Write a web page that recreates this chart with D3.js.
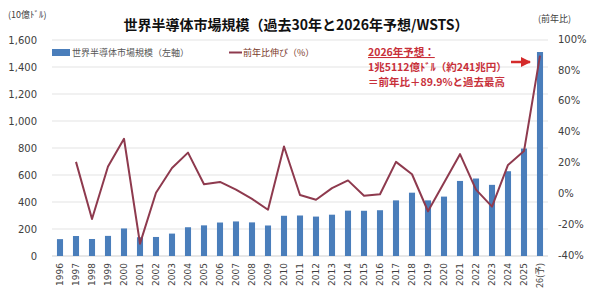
<!DOCTYPE html>
<html>
<head>
    <meta charset="utf-8">
    <script src="https://d3js.org/d3.v7.min.js"></script>
    <style>
        body { margin: 0; background: #fff; }
        text { font-family: "DejaVu Sans", sans-serif; }
        .jp { font-family: "Noto Sans CJK JP", sans-serif; }
    </style>
</head>
<body>
    <svg width="600" height="303"></svg>

    <script>
        // 年（カテゴリ）
        var years = ["1996", "1997", "1998", "1999", "2000", "2001", "2002", "2003", "2004", "2005",
                     "2006", "2007", "2008", "2009", "2010", "2011", "2012", "2013", "2014", "2015",
                     "2016", "2017", "2018", "2019", "2020", "2021", "2022", "2023", "2024", "2025", "26(予)"];
        // 世界半導体市場規模（10億ドル）
        var market = [125, 148, 126, 149, 204, 139, 141, 166, 213, 227,
                      248, 256, 249, 226, 298, 300, 292, 306, 336, 335,
                      339, 412, 469, 412, 440, 556, 574, 527, 628, 796, 1511];
        // 前年比伸び（%）、1996年はなし
        var growth = [null, 21, -16, 18, 36, -32, 1, 17, 27, 6.5,
                      8, 3, -3, -10, 31, -0.5, -3.5, 4, 9, -1,
                      0, 21, 13, -11, 7.5, 26, 3, -8, 19, 28, 89.9];
        var leftTicks = [0, 200, 400, 600, 800, 1000, 1200, 1400, 1600];
        var rightTicks = [-40, -20, 0, 20, 40, 60, 80, 100];

        var svg = d3.select("svg");
        var plotTop = 40, plotBottom = 256, plotLeft = 52, plotRight = 548;

        var x = d3.scaleBand()
            .domain(years)
            .range([plotLeft, plotRight])
            .paddingInner(0.62)
            .paddingOuter(0.31);

        var y = d3.scaleLinear().domain([0, 1600]).range([plotBottom, plotTop]);
        var y2 = d3.scaleLinear().domain([-40, 100]).range([plotBottom, plotTop]);

        // グリッド線
        svg.append("g").selectAll("line")
            .data(leftTicks)
            .enter().append("line")
            .attr("x1", plotLeft).attr("x2", plotRight)
            .attr("y1", function(d) { return y(d); })
            .attr("y2", function(d) { return y(d); })
            .attr("stroke", function(d) { return d === 0 ? "#cfcfcf" : "#e3e3e3"; })
            .attr("stroke-width", 1);

        // 左軸
        var yAxis = d3.axisLeft(y).tickValues(leftTicks).tickSize(0).tickPadding(0)
            .tickFormat(d3.format(","));
        svg.append("g")
            .attr("transform", "translate(37,0)")
            .call(yAxis)
            .call(function(g) { g.select(".domain").remove(); })
            .selectAll("text")
            .attr("font-size", "10px")
            .attr("fill", "#404040")
            .attr("font-family", "DejaVu Sans");

        // 右軸
        var y2Axis = d3.axisRight(y2).tickValues(rightTicks).tickSize(0).tickPadding(0)
            .tickFormat(function(d) { return d + "%"; });
        svg.append("g")
            .attr("transform", "translate(558,-1)")
            .call(y2Axis)
            .call(function(g) { g.select(".domain").remove(); })
            .selectAll("text")
            .attr("font-size", "10px")
            .attr("fill", "#404040")
            .attr("font-family", "DejaVu Sans");

        // 棒グラフ
        svg.append("g").selectAll("rect")
            .data(years)
            .enter().append("rect")
            .attr("x", function(d) { return x(d); })
            .attr("width", x.bandwidth())
            .attr("y", function(d, i) { return y(market[i]); })
            .attr("height", function(d, i) { return plotBottom - y(market[i]); })
            .attr("fill", "#4a7ebb");

        // 折れ線
        var lineData = years.map(function(d, i) { return { year: d, v: growth[i] }; })
            .filter(function(d) { return d.v !== null; });
        var line = d3.line()
            .x(function(d) { return x(d.year) + x.bandwidth() / 2; })
            .y(function(d) { return y2(d.v); });
        svg.append("path")
            .datum(lineData)
            .attr("d", line)
            .attr("fill", "none")
            .attr("stroke", "#8e3a4e")
            .attr("stroke-width", 2)
            .attr("stroke-linejoin", "round");

        // X軸ラベル（縦書き回転）
        svg.append("g").selectAll("text")
            .data(years)
            .enter().append("text")
            .attr("transform", function(d) {
                return "translate(" + (x(d) + x.bandwidth() / 2 + 3) + ",263) rotate(-90)";
            })
            .attr("text-anchor", "end")
            .attr("font-size", "9px")
            .attr("fill", "#404040")
            .attr("class", function(d) { return d.indexOf("予") >= 0 ? "jp" : null; })
            .text(function(d) { return d; });

        // タイトル
        svg.append("text")
            .attr("class", "jp")
            .attr("x", 296).attr("y", 30)
            .attr("text-anchor", "middle")
            .attr("font-size", "14px")
            .attr("font-weight", "bold")
            .attr("fill", "#111")
            .text("世界半導体市場規模（過去30年と2026年予想/WSTS）");

        // 軸単位
        svg.append("text").attr("class", "jp")
            .attr("x", 8).attr("y", 18)
            .attr("font-size", "9px").attr("fill", "#404040")
            .text("(10億ﾄﾞﾙ)");
        svg.append("text").attr("class", "jp")
            .attr("x", 538).attr("y", 22)
            .attr("font-size", "9px").attr("fill", "#404040")
            .text("(前年比)");

        // 凡例
        svg.append("rect").attr("x", 52).attr("y", 49).attr("width", 18).attr("height", 7).attr("fill", "#4a7ebb");
        svg.append("text").attr("class", "jp")
            .attr("x", 72).attr("y", 56)
            .attr("font-size", "9px").attr("fill", "#555")
            .text("世界半導体市場規模（左軸）");
        svg.append("line").attr("x1", 229).attr("x2", 242).attr("y1", 52.5).attr("y2", 52.5)
            .attr("stroke", "#8e3a4e").attr("stroke-width", 2);
        svg.append("text").attr("class", "jp")
            .attr("x", 243).attr("y", 56)
            .attr("font-size", "9px").attr("fill", "#7a3a2a")
            .text("前年比伸び（%）");

        // 注記
        var note = ["2026年予想：", "1兆5112億ﾄﾞﾙ（約241兆円）", "＝前年比＋89.9%と過去最高"];
        svg.append("g").selectAll("text")
            .data(note)
            .enter().append("text")
            .attr("class", "jp")
            .attr("x", 368)
            .attr("y", function(d, i) { return 56 + i * 15; })
            .attr("font-size", "10.5px")
            .attr("font-weight", "bold")
            .attr("fill", "#c8303a")
            .attr("text-decoration", function(d, i) { return i === 0 ? "underline" : null; })
            .text(function(d) { return d; });

        // 矢印
        svg.append("defs").append("marker")
            .attr("id", "arr")
            .attr("viewBox", "0 0 10 10")
            .attr("refX", 9).attr("refY", 5)
            .attr("markerWidth", 4).attr("markerHeight", 4)
            .attr("orient", "auto")
            .append("path").attr("d", "M0,0L10,5L0,10z").attr("fill", "#d42a2a");
        svg.append("line")
            .attr("x1", 511).attr("x2", 530).attr("y1", 62).attr("y2", 62)
            .attr("stroke", "#d42a2a").attr("stroke-width", 2.5)
            .attr("marker-end", "url(#arr)");
    </script>
</body>
</html>
